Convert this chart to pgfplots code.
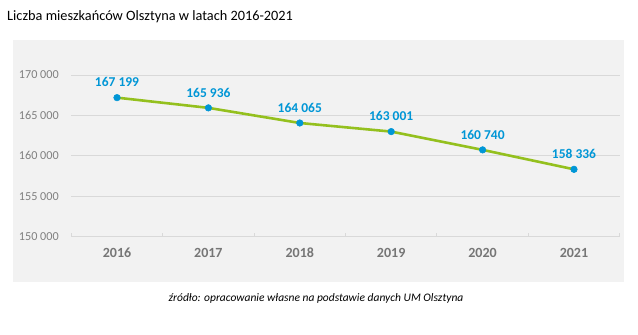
\documentclass[border=0pt]{standalone}
\usepackage{pgfplots}
\pgfplotsset{compat=1.18}
\usepackage{fontspec}
\setmainfont{Carlito}
\definecolor{panel}{RGB}{242,242,242}
\definecolor{gridc}{RGB}{217,217,217}
\definecolor{tickc}{RGB}{128,128,128}
\definecolor{yearc}{RGB}{118,118,118}
\definecolor{lblc}{RGB}{0,150,214}
\definecolor{linec}{RGB}{148,192,30}
\begin{document}
\begin{tikzpicture}
\useasboundingbox (0pt,0pt) rectangle (638pt,-335pt);
\fill[white] (0pt,0pt) rectangle (638pt,-335pt);
\fill[panel] (13pt,-40pt) rectangle (624pt,-282pt);
\node[anchor=west,inner sep=0pt,font=\fontsize{14.3}{16}\selectfont] at (7pt,-17pt) {Liczba mieszkańców Olsztyna w latach 2016-2021};
\node[anchor=center,inner sep=0pt,font=\fontsize{11.5}{13}\selectfont\itshape] at (316pt,-298pt) {źródło: opracowanie własne na podstawie danych UM Olsztyna};
\begin{axis}[
  at={(71.3pt,-236.7pt)}, anchor=south west,
  scale only axis, width=548.4pt, height=161.7pt,
  xmin=2015.5, xmax=2021.5, ymin=150000, ymax=170000,
  xtick={2016,...,2021},
  xticklabels={2016,2017,2018,2019,2020,2021},
  minor xtick={2015.5,2016.5,...,2021.5},
  ytick={150000,155000,...,170000},
  scaled y ticks=false,
  /pgf/number format/assume math mode=true,
  yticklabel={\pgfmathprintnumber[fixed,1000 sep={\ }]{\tick}},
  ymajorgrids, major grid style={gridc, line width=0.8pt},
  axis x line*=bottom, axis y line*=left,
  y axis line style={draw=none},
  x axis line style={gridc, line width=0.8pt, -},
  major tick length=0pt,
  minor tick length=4pt,
  minor tick style={gridc, line width=0.8pt},
  xtick align=inside,
  yticklabel style={font=\fontsize{12.2}{14}\selectfont, text=tickc, xshift=-9pt},
  xticklabel style={font=\fontsize{14}{16}\selectfont\bfseries, text=yearc, yshift=-8pt},
  clip=false,
  nodes near coords,
  point meta=explicit symbolic,
  every node near coord/.append style={font=\fontsize{13.5}{15}\selectfont\bfseries, text=lblc, yshift=7pt},
]
\addplot[linec, line width=2.6pt, mark=*, mark size=3.3pt, mark options={fill=lblc, draw=lblc, line width=0.5pt}]
table[meta=label] {
x y label
2016 167199 {167 199}
2017 165936 {165 936}
2018 164065 {164 065}
2019 163001 {163 001}
2020 160740 {160 740}
2021 158336 {158 336}
};
\end{axis}
\end{tikzpicture}
\end{document}
